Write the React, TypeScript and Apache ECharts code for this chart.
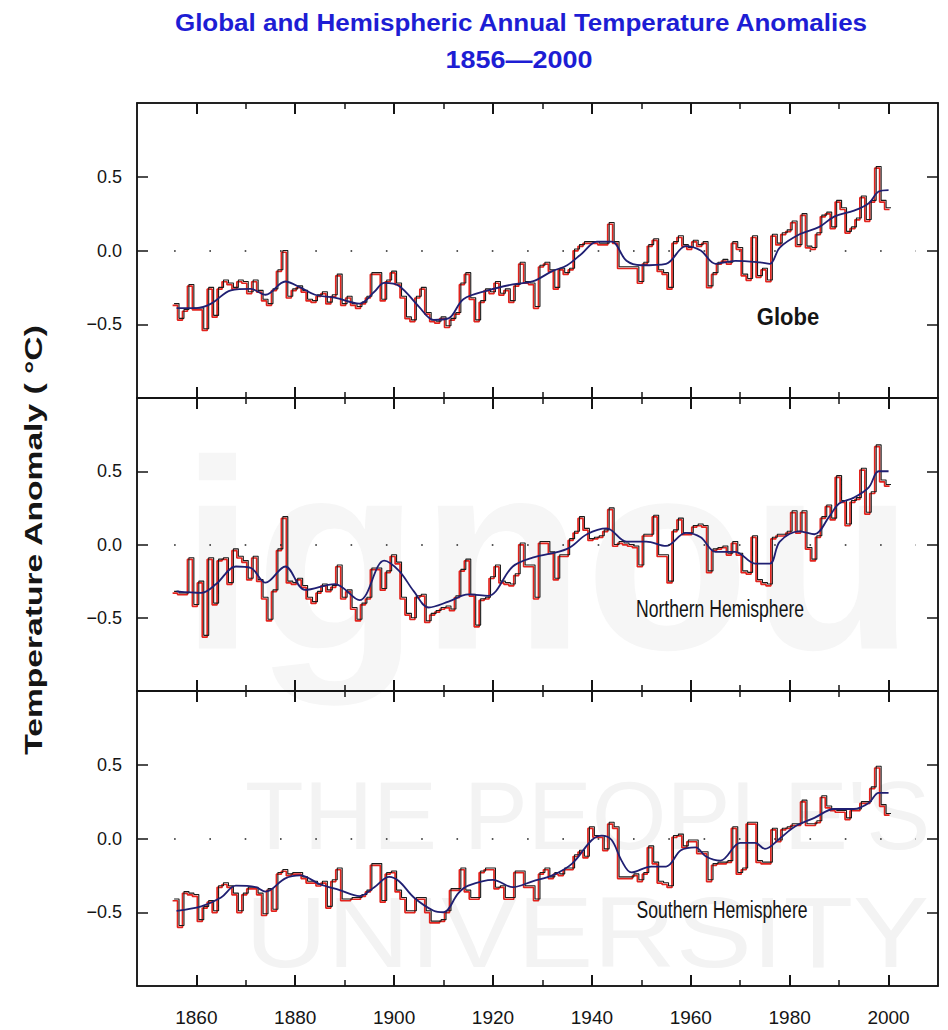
import React, { useEffect, useRef } from "react";
import * as echarts from "echarts";

// ---------------- data ----------------
const FIRST_YEAR = 1856;
const LAST_YEAR = 2000;
const years: number[] = [];
for (let y = FIRST_YEAR; y <= LAST_YEAR; y++) years.push(y);

const globeAnnual = [
  -0.36, -0.46, -0.40, -0.23, -0.39, -0.39, -0.53, -0.25, -0.44, -0.25,
  -0.20, -0.22, -0.25, -0.20, -0.21, -0.28, -0.20, -0.27, -0.33, -0.36,
  -0.26, -0.13, 0.00, -0.31, -0.26, -0.24, -0.27, -0.33, -0.34, -0.30,
  -0.28, -0.35, -0.30, -0.16, -0.36, -0.31, -0.36, -0.38, -0.35, -0.31,
  -0.15, -0.15, -0.33, -0.20, -0.14, -0.22, -0.31, -0.45, -0.47, -0.31,
  -0.25, -0.42, -0.47, -0.48, -0.45, -0.51, -0.46, -0.42, -0.22, -0.15,
  -0.32, -0.47, -0.34, -0.26, -0.28, -0.21, -0.29, -0.26, -0.34, -0.23,
  -0.08, -0.21, -0.22, -0.38, -0.10, -0.08, -0.13, -0.25, -0.12, -0.15,
  -0.12, 0.01, 0.04, 0.06, 0.06, 0.06, 0.05, 0.05, 0.19, 0.06,
  -0.11, -0.11, -0.11, -0.11, -0.21, -0.08, 0.04, 0.08, -0.13, -0.15,
  -0.25, 0.06, 0.10, 0.04, 0.02, 0.07, 0.04, 0.06, -0.24, -0.15,
  -0.08, -0.06, -0.08, 0.06, 0.02, -0.16, -0.19, 0.10, -0.17, -0.12,
  -0.20, 0.11, 0.05, 0.12, 0.14, 0.20, 0.04, 0.25, 0.03, 0.02,
  0.12, 0.24, 0.26, 0.16, 0.34, 0.29, 0.13, 0.16, 0.22, 0.37,
  0.21, 0.34, 0.57, 0.34, 0.29,
];

const nhAnnual = [
  -0.32, -0.33, -0.33, -0.09, -0.41, -0.25, -0.62, -0.09, -0.40, -0.10,
  -0.09, -0.26, -0.03, -0.08, -0.11, -0.23, -0.08, -0.24, -0.36, -0.51,
  -0.31, -0.03, 0.19, -0.25, -0.26, -0.23, -0.28, -0.36, -0.39, -0.32,
  -0.27, -0.31, -0.28, -0.14, -0.36, -0.31, -0.43, -0.51, -0.40, -0.36,
  -0.16, -0.16, -0.30, -0.18, -0.07, -0.12, -0.36, -0.47, -0.50, -0.35,
  -0.34, -0.52, -0.47, -0.45, -0.43, -0.42, -0.44, -0.35, -0.17, -0.10,
  -0.34, -0.55, -0.37, -0.36, -0.22, -0.14, -0.25, -0.26, -0.27, -0.20,
  0.01, -0.14, -0.14, -0.36, 0.02, 0.02, -0.05, -0.23, -0.07, -0.07,
  0.04, 0.09, 0.19, 0.11, 0.04, 0.05, 0.06, 0.10, 0.25, 0.00,
  0.02, 0.01, 0.00, -0.01, -0.14, 0.07, 0.07, 0.20, -0.07, -0.07,
  -0.25, 0.10, 0.18, 0.08, 0.08, 0.13, 0.14, 0.13, -0.18, -0.03,
  -0.02, -0.01, -0.06, 0.02, -0.06, -0.18, -0.19, 0.06, -0.24, -0.26,
  -0.27, 0.05, 0.07, 0.07, 0.09, 0.23, 0.09, 0.23, -0.02, -0.10,
  0.06, 0.19, 0.27, 0.18, 0.47, 0.30, 0.14, 0.30, 0.32, 0.52,
  0.22, 0.36, 0.68, 0.44, 0.41,
];

const shAnnual = [
  -0.41, -0.59, -0.36, -0.37, -0.38, -0.55, -0.46, -0.42, -0.49, -0.32,
  -0.30, -0.32, -0.37, -0.49, -0.37, -0.33, -0.33, -0.37, -0.51, -0.34,
  -0.48, -0.23, -0.21, -0.24, -0.23, -0.23, -0.26, -0.29, -0.29, -0.31,
  -0.29, -0.46, -0.28, -0.20, -0.41, -0.41, -0.40, -0.40, -0.38, -0.35,
  -0.17, -0.17, -0.42, -0.23, -0.22, -0.35, -0.40, -0.49, -0.49, -0.40,
  -0.40, -0.49, -0.56, -0.56, -0.55, -0.49, -0.34, -0.34, -0.20, -0.35,
  -0.40, -0.40, -0.22, -0.20, -0.20, -0.33, -0.32, -0.40, -0.40, -0.22,
  -0.22, -0.32, -0.32, -0.41, -0.23, -0.20, -0.26, -0.23, -0.24, -0.20,
  -0.20, -0.11, -0.08, -0.12, 0.08, 0.02, 0.02, -0.07, 0.11, 0.08,
  -0.26, -0.26, -0.26, -0.24, -0.28, -0.23, -0.05, -0.16, -0.29, -0.30,
  -0.32, 0.02, 0.03, -0.05, -0.01, -0.01, -0.09, -0.09, -0.28, -0.17,
  -0.16, -0.16, -0.15, 0.08, -0.23, -0.20, 0.11, 0.11, -0.15, -0.16,
  -0.16, 0.07, -0.01, 0.07, 0.08, 0.10, 0.10, 0.26, 0.10, 0.10,
  0.12, 0.29, 0.22, 0.20, 0.19, 0.19, 0.14, 0.20, 0.20, 0.25,
  0.25, 0.35, 0.49, 0.23, 0.17,
];

const globeSmoothYears = [
  1856, 1860, 1863, 1867, 1871, 1874, 1878, 1881, 1884, 1888,
  1893, 1896, 1898, 1901, 1905, 1908, 1911, 1914, 1919, 1924,
  1928, 1932, 1935, 1938, 1941, 1944, 1947, 1950, 1955, 1959,
  1962, 1965, 1969, 1974, 1976, 1978, 1982, 1986, 1989, 1993,
  1996, 1998, 2000,
];
const globeSmoothValues = [
  -0.39, -0.39, -0.36, -0.27, -0.26, -0.30, -0.21, -0.25, -0.30, -0.32,
  -0.36, -0.28, -0.22, -0.24, -0.38, -0.47, -0.46, -0.33, -0.27, -0.23,
  -0.21, -0.14, -0.10, -0.02, 0.06, 0.06, -0.07, -0.10, -0.09, 0.03,
  0.00, -0.09, -0.07, -0.08, -0.09, 0.02, 0.11, 0.16, 0.23, 0.27,
  0.32, 0.40, 0.41,
];

const nhSmoothYears = [
  1856, 1861, 1864, 1868, 1871, 1874, 1878, 1882, 1888, 1893,
  1898, 1901, 1904, 1907, 1911, 1915, 1919, 1924, 1928, 1935,
  1939, 1943, 1947, 1951, 1955, 1959, 1962, 1965, 1969, 1973,
  1976, 1978, 1982, 1985, 1988, 1990, 1993, 1996, 1998, 2000,
];
const nhSmoothValues = [
  -0.32, -0.33, -0.27, -0.15, -0.16, -0.26, -0.15, -0.31, -0.27, -0.38,
  -0.11, -0.18, -0.32, -0.43, -0.39, -0.34, -0.35, -0.15, -0.09, -0.03,
  0.07, 0.11, 0.02, 0.02, -0.01, 0.08, 0.05, -0.05, -0.05, -0.13,
  -0.13, 0.02, 0.09, 0.07, 0.19, 0.28, 0.32, 0.39, 0.50, 0.50,
];

const shSmoothYears = [
  1856, 1861, 1865, 1868, 1872, 1874, 1878, 1881, 1885, 1889,
  1893, 1896, 1899, 1901, 1904, 1908, 1910, 1913, 1915, 1920,
  1924, 1928, 1932, 1936, 1940, 1942, 1944, 1946, 1948, 1952,
  1955, 1958, 1961, 1963, 1966, 1970, 1973, 1975, 1978, 1981,
  1985, 1989, 1993, 1996, 1998, 2000,
];
const shSmoothValues = [
  -0.49, -0.46, -0.40, -0.32, -0.33, -0.36, -0.27, -0.25, -0.31, -0.35,
  -0.39, -0.33, -0.26, -0.29, -0.40, -0.49, -0.50, -0.37, -0.32, -0.28,
  -0.33, -0.29, -0.25, -0.17, -0.01, 0.02, -0.01, -0.15, -0.23, -0.19,
  -0.19, -0.08, -0.06, -0.12, -0.15, -0.03, -0.03, -0.07, 0.00, 0.08,
  0.14, 0.20, 0.20, 0.24, 0.31, 0.31,
];

const majorYearTicks = [1860, 1880, 1900, 1920, 1940, 1960, 1980, 2000];
const minorYearTicks = [1870, 1890, 1910, 1930, 1950, 1970, 1990];
const anomalyTicks = [-0.5, 0, 0.5];
const panelNames = ["Globe", "Northern Hemisphere", "Southern Hemisphere"];
const titleText = "Global and Hemispheric Annual Temperature Anomalies";
const subtitleText = "1856\u20142000";
const yAxisTitle = "Temperature Anomaly ( \u00B0C)";
const watermarkTexts = ["ignou", "THE PEOPLE'S", "UNIVERSITY"];

// ---------------- layout / style ----------------
const X_MIN = 1848;
const X_MAX = 2010;
const GRID_LEFT = 137;
const GRID_WIDTH = 801;
const GRID_TOPS = [103, 398, 691];
const GRID_HEIGHTS = [295, 293, 295];
const SANS = "'Liberation Sans', Arial, Helvetica, sans-serif";
const INK = "#151515";

function stepPoints(vals: number[]): number[][] {
  const pts = vals.map((v, i) => [years[i] - 0.5, v]);
  pts.push([years[years.length - 1] + 0.5, vals[vals.length - 1]]);
  return pts;
}
function pairs(xs: number[], vs: number[]): number[][] {
  return xs.map((x, i) => [x, vs[i]]);
}

function buildOption() {
  const annual = [globeAnnual, nhAnnual, shAnnual];
  const smooth = [
    pairs(globeSmoothYears, globeSmoothValues),
    pairs(nhSmoothYears, nhSmoothValues),
    pairs(shSmoothYears, shSmoothValues),
  ];
  const grid: any[] = [];
  const xAxis: any[] = [];
  const yAxis: any[] = [];
  const series: any[] = [];

  for (let p = 0; p < 3; p++) {
    grid.push({
      left: GRID_LEFT,
      width: GRID_WIDTH,
      top: GRID_TOPS[p],
      height: GRID_HEIGHTS[p],
      show: true,
      borderColor: INK,
      borderWidth: 1.5,
      backgroundColor: "transparent",
    });
    const xb = {
      type: "value",
      gridIndex: p,
      min: X_MIN,
      max: X_MAX,
      splitLine: { show: false },
      axisPointer: { show: false },
    };
    const majorTick = {
      show: true,
      inside: true,
      length: 11,
      customValues: majorYearTicks,
      lineStyle: { color: INK, width: 2 },
    };
    const minorTick = {
      show: true,
      inside: true,
      length: 6,
      customValues: minorYearTicks,
      lineStyle: { color: INK, width: 1.5 },
    };
    const line = { show: true, onZero: false, lineStyle: { color: INK, width: 1.5 } };
    xAxis.push({
      ...xb,
      position: "bottom",
      axisLine: line,
      axisTick: majorTick,
      axisLabel: {
        show: p === 2,
        customValues: majorYearTicks,
        margin: 22,
        fontSize: 19,
        color: INK,
        fontFamily: SANS,
        formatter: (v: number) => String(Math.round(v)),
      },
    });
    xAxis.push({
      ...xb,
      position: "bottom",
      axisLine: { show: false, onZero: false },
      axisTick: minorTick,
      axisLabel: { show: false },
    });
    xAxis.push({
      ...xb,
      position: "top",
      axisLine: line,
      axisTick: majorTick,
      axisLabel: { show: false },
    });
    xAxis.push({
      ...xb,
      position: "top",
      axisLine: { show: false, onZero: false },
      axisTick: minorTick,
      axisLabel: { show: false },
    });
    // hidden, slightly shifted axis for the red misregistered trace
    xAxis.push({ ...xb, min: X_MIN + 0.3, max: X_MAX + 0.3, show: false });

    const yb = {
      type: "value",
      gridIndex: p,
      min: -1,
      max: 1,
      splitLine: { show: false },
      axisPointer: { show: false },
    };
    const yTick = {
      show: true,
      inside: true,
      length: 11,
      customValues: anomalyTicks,
      lineStyle: { color: INK, width: 1.5 },
    };
    yAxis.push({
      ...yb,
      position: "left",
      axisLine: line,
      axisTick: yTick,
      axisLabel: {
        show: true,
        customValues: anomalyTicks,
        margin: 15,
        fontSize: 18,
        color: INK,
        fontFamily: SANS,
        formatter: (v: number) => (v < 0 ? "\u2212" + Math.abs(v).toFixed(1) : v.toFixed(1)),
      },
    });
    yAxis.push({
      ...yb,
      position: "right",
      axisLine: line,
      axisTick: yTick,
      axisLabel: { show: false },
    });
    yAxis.push({ ...yb, min: -0.988, max: 1.012, show: false });

    const steps = stepPoints(annual[p]);
    series.push({
      type: "line",
      xAxisIndex: p * 5 + 4,
      yAxisIndex: p * 3 + 2,
      data: steps,
      step: "end",
      symbol: "none",
      silent: true,
      z: 2,
      lineStyle: { color: "#e2231d", width: 1.7 },
    });
    series.push({
      type: "line",
      xAxisIndex: p * 5,
      yAxisIndex: p * 3,
      data: steps,
      step: "end",
      symbol: "none",
      silent: true,
      z: 3,
      lineStyle: { color: "#1b1b1b", width: 1.1 },
      markLine: {
        silent: true,
        symbol: ["none", "none"],
        label: { show: false },
        lineStyle: { type: [1.6, 33.7], color: "#222", width: 1.6 },
        data: [[{ coord: [1855.5, 0] }, { coord: [2005.5, 0] }]],
      },
    });
    series.push({
      type: "line",
      xAxisIndex: p * 5,
      yAxisIndex: p * 3,
      data: smooth[p],
      smooth: 0.35,
      symbol: "none",
      silent: true,
      z: 4,
      lineStyle: { color: "#1f1f72", width: 1.8 },
    });
  }

  const graphic: any[] = [
    // faint watermark
    {
      type: "text",
      z: -10,
      silent: true,
      x: 180,
      y: 690,
      style: {
        text: watermarkTexts[0],
        fontSize: 270,
        fontWeight: "bold",
        fontFamily: SANS,
        fill: "#f6f6f6",
        align: "left",
        verticalAlign: "bottom",
      },
    },
    {
      type: "text",
      z: -10,
      silent: true,
      x: 245,
      y: 815,
      style: {
        text: watermarkTexts[1],
        fontSize: 96,
        fontFamily: SANS,
        fill: "#f3f3f3",
        align: "left",
        verticalAlign: "middle",
      },
    },
    {
      type: "text",
      z: -10,
      silent: true,
      x: 245,
      y: 932,
      scaleX: 1.14,
      style: {
        text: watermarkTexts[2],
        fontSize: 100,
        fontFamily: SANS,
        fill: "#f3f3f3",
        align: "left",
        verticalAlign: "middle",
      },
    },
    // titles
    {
      type: "text",
      x: 521,
      y: 23,
      scaleX: 1.3,
      scaleY: 1.15,
      style: {
        text: titleText,
        fontSize: 20,
        fontWeight: "bold",
        fontFamily: SANS,
        fill: "#1d1dd4",
        align: "center",
        verticalAlign: "middle",
      },
    },
    {
      type: "text",
      x: 519,
      y: 60,
      scaleX: 1.35,
      scaleY: 1.15,
      style: {
        text: subtitleText,
        fontSize: 20,
        fontWeight: "bold",
        fontFamily: SANS,
        fill: "#1d1dd4",
        align: "center",
        verticalAlign: "middle",
      },
    },
    {
      type: "text",
      x: 34,
      y: 540,
      rotation: Math.PI / 2,
      scaleX: 1.4,
      style: {
        text: yAxisTitle,
        fontSize: 24,
        fontWeight: "bold",
        fontFamily: SANS,
        fill: INK,
        align: "center",
        verticalAlign: "middle",
      },
    },
    {
      type: "text",
      x: 788,
      y: 317,
      scaleY: 1.1,
      style: {
        text: panelNames[0],
        fontSize: 22,
        fontWeight: "bold",
        fontFamily: SANS,
        fill: INK,
        align: "center",
        verticalAlign: "middle",
      },
    },
    {
      type: "text",
      x: 720,
      y: 608,
      scaleX: 0.8,
      scaleY: 1.1,
      style: {
        text: panelNames[1],
        fontSize: 22,
        fontFamily: SANS,
        fill: INK,
        align: "center",
        verticalAlign: "middle",
      },
    },
    {
      type: "text",
      x: 722,
      y: 909,
      scaleX: 0.8,
      scaleY: 1.1,
      style: {
        text: panelNames[2],
        fontSize: 22,
        fontFamily: SANS,
        fill: INK,
        align: "center",
        verticalAlign: "middle",
      },
    },
  ];

  return {
    animation: false,
    backgroundColor: "#ffffff",
    grid,
    xAxis,
    yAxis,
    series,
    graphic,
  };
}

export default function App() {
  const ref = useRef<HTMLDivElement | null>(null);
  useEffect(() => {
    if (!ref.current) return;
    const chart = echarts.init(ref.current, undefined, { renderer: "svg" });
    chart.setOption(buildOption() as any);
    return () => chart.dispose();
  }, []);
  return (
    <div
      ref={ref}
      style={{ position: "absolute", left: 0, top: 0, width: 948, height: 1030, background: "#fff" }}
    />
  );
}
